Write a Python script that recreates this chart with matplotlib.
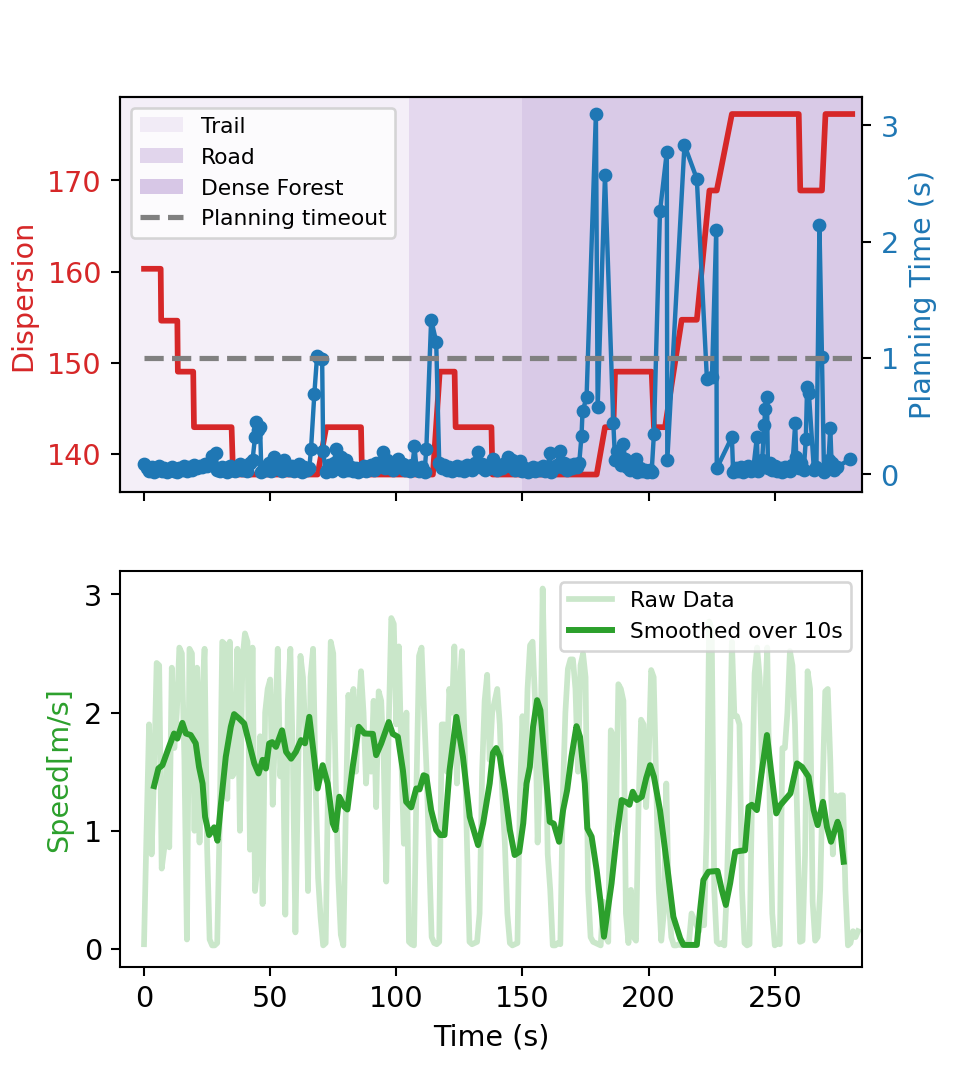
import numpy as np
import matplotlib.pyplot as plt
from matplotlib.patches import Patch
from matplotlib.lines import Line2D

# terrain segments (s)
road_start = 105
forest_start = 150
timeout = 1.0

# dispersion over time (red line)
red_t = [0, 6.6, 6.8, 13.2, 13.4, 19.5, 19.8, 34.7, 35.3, 68.8,
         72.2, 86.0, 86.4, 114.5, 117.2, 123.1, 123.5, 137.7, 138.1, 179.4,
         182.7, 186.0, 186.7, 201.2, 202.1, 206.5, 213.1, 219.1, 224.1, 227.0,
         233.0, 259.5, 260.1, 268.7, 270.1, 280.7]
red_v = [160.3, 160.3, 154.6, 154.6, 149.0, 149.0, 142.9, 142.9, 137.7, 137.7,
         142.9, 142.9, 137.7, 137.7, 149.0, 149.0, 142.9, 142.9, 137.7, 137.7,
         142.9, 142.9, 149.0, 149.0, 142.9, 142.9, 154.7, 154.7, 168.9, 168.9,
         177.3, 177.3, 168.9, 168.9, 177.3, 177.3]

# planning time samples
plan_t = [0, 1, 2, 3, 4, 5, 6, 7, 8, 9,
          10, 11, 12, 13, 14, 15, 16, 17, 18, 19,
          20, 21, 22, 23, 24, 25, 26, 27.1, 28.4, 29,
          30, 31, 32, 33, 34, 35, 36, 37, 38, 39,
          40, 41, 42, 43, 44.0, 44.3, 45.2, 46.0, 46.5, 47.5,
          48.5, 49.5, 50.5, 51.5, 52.5, 53.5, 54.5, 55.5, 56.5, 57.5,
          58.5, 59.5, 60.5, 61.5, 62.5, 63.5, 64.5, 65.5, 66.2, 67.5,
          68.6, 69.5, 70.6, 71.0, 72.0, 72.6, 73.5, 74.5, 75.3, 76.1,
          77.0, 78.0, 79.0, 80.2, 81.0, 82.0, 83.0, 84.0, 85.0, 86.0,
          87, 88, 89, 90, 91, 92, 93, 94.6, 95.5, 96.5,
          97.5, 98.5, 99.5, 100.6, 101.5, 102.5, 103.5, 104.5, 105.5, 106.4,
          107.2, 108, 109, 110, 111.2, 111.9, 113.8, 115.8, 117.0, 118,
          119, 120, 121, 122, 123, 124, 125, 126, 127, 128,
          129, 130, 131, 132.4, 133.2, 134, 135, 136, 137, 138.3,
          139.2, 140, 141, 142, 143, 144.3, 145, 146, 147, 148,
          148.9, 150, 151, 152, 153, 154, 155, 156, 157, 158,
          159, 160, 160.8, 161.5, 162.5, 163.5, 164.8, 165.5, 166.5, 167.5,
          168.5, 169.5, 170.5, 171.5, 172.5, 173.4, 173.8, 175.4, 179.1, 179.8,
          182.7, 186.0, 186.7, 187.5, 188.3, 189.0, 190.0, 190.6, 191.5, 192.5,
          193.5, 194.9, 195.5, 196.5, 197.5, 198.5, 199.5, 200.5, 201.2, 202.1,
          204.5, 207.2, 207.4, 214.2, 219.1, 223.1, 225.1, 226.8, 227.0, 233.0,
          233.5, 234.5, 235.5, 236.5, 237.5, 238.5, 239.5, 240.5, 241.5, 242.9,
          243.3, 244, 245, 245.8, 246.2, 246.9, 247.3, 248, 249, 250,
          251, 252, 253, 254, 255, 256, 257, 258.1, 258.5, 259.5,
          260.5, 261.5, 262.3, 262.8, 263.5, 265.5, 266.5, 267.7, 268.7, 269.5,
          270.5, 271.3, 272.0, 272.5, 273.5, 274.5, 280.0]
plan_s = [0.09, 0.05, 0.03, 0.06, 0.02, 0.04, 0.07, 0.03, 0.05, 0.02,
          0.04, 0.06, 0.03, 0.02, 0.05, 0.04, 0.07, 0.03, 0.06, 0.04,
          0.08, 0.05, 0.07, 0.06, 0.09, 0.07, 0.10, 0.16, 0.18, 0.04,
          0.03, 0.06, 0.05, 0.02, 0.07, 0.04, 0.03, 0.05, 0.09, 0.04,
          0.06, 0.03, 0.10, 0.12, 0.32, 0.45, 0.38, 0.41, 0.02, 0.06,
          0.04, 0.10, 0.03, 0.15, 0.05, 0.08, 0.03, 0.12, 0.06, 0.04,
          0.07, 0.03, 0.05, 0.09, 0.02, 0.06, 0.04, 0.05, 0.22, 0.69,
          1.02, 1.00, 0.99, 0.20, 0.02, 0.04, 0.08, 0.03, 0.10, 0.22,
          0.05, 0.15, 0.03, 0.12, 0.04, 0.06, 0.03, 0.05, 0.02, 0.04,
          0.07, 0.03, 0.06, 0.08, 0.04, 0.10, 0.06, 0.19, 0.05, 0.12,
          0.08, 0.04, 0.10, 0.13, 0.06, 0.09, 0.04, 0.07, 0.03, 0.08,
          0.24, 0.05, 0.03, 0.06, 0.02, 0.22, 1.33, 1.14, 0.10, 0.05,
          0.08, 0.04, 0.06, 0.03, 0.05, 0.07, 0.04, 0.06, 0.03, 0.08,
          0.05, 0.04, 0.10, 0.19, 0.06, 0.09, 0.04, 0.07, 0.05, 0.13,
          0.06, 0.04, 0.08, 0.05, 0.10, 0.15, 0.07, 0.12, 0.04, 0.06,
          0.11, 0.03, 0.05, 0.02, 0.04, 0.06, 0.03, 0.05, 0.04, 0.07,
          0.03, 0.06, 0.18, 0.02, 0.05, 0.08, 0.20, 0.06, 0.10, 0.04,
          0.08, 0.05, 0.09, 0.06, 0.10, 0.33, 0.54, 0.66, 3.10, 0.58,
          2.57, 0.44, 0.12, 0.20, 0.14, 0.08, 0.26, 0.13, 0.06, 0.04,
          0.09, 0.13, 0.02, 0.05, 0.03, 0.04, 0.02, 0.04, 0.02, 0.35,
          2.26, 2.77, 0.12, 2.83, 2.54, 0.82, 0.84, 2.10, 0.05, 0.32,
          0.02, 0.05, 0.03, 0.06, 0.02, 0.04, 0.07, 0.03, 0.05, 0.32,
          0.03, 0.08, 0.12, 0.42, 0.56, 0.66, 0.05, 0.10, 0.04, 0.07,
          0.03, 0.05, 0.02, 0.06, 0.04, 0.03, 0.08, 0.44, 0.15, 0.05,
          0.10, 0.04, 0.30, 0.75, 0.70, 0.04, 0.06, 2.14, 1.01, 0.02,
          0.05, 0.12, 0.40, 0.10, 0.04, 0.06, 0.13]

# raw speed, one sample per second
speed_raw = [0.04, 1.0, 1.9, 0.8, 1.5, 2.42, 2.40, 0.68, 0.85, 1.6,
             0.86, 2.38, 1.7, 2.0, 2.55, 2.5, 1.6, 0.08, 2.54, 2.5,
             1.0, 2.38, 0.9, 2.1, 2.54, 0.86, 0.08, 0.03, 0.03, 0.05,
             1.08, 2.6, 2.58, 1.27, 2.6, 1.46, 1.5, 2.54, 1.0, 2.45,
             2.67, 2.6, 0.84, 2.55, 0.49, 0.72, 1.8, 0.38, 2.0, 2.2,
             2.28, 1.22, 1.9, 2.54, 1.46, 1.8, 0.29, 2.1, 2.54, 1.6,
             0.14, 1.4, 2.48, 2.3, 1.8, 0.49, 2.3, 2.54, 1.4, 0.6,
             0.26, 0.03, 0.05, 1.5, 2.6, 2.5, 1.4, 0.6, 0.12, 0.03,
             1.2, 2.15, 1.9, 2.2, 1.5, 2.0, 2.35, 2.0, 1.4, 1.8,
             1.5, 2.1, 1.2, 2.18, 2.1, 1.6, 0.57, 1.9, 2.8, 2.75,
             1.9, 2.56, 1.6, 0.89, 2.0, 0.06, 0.04, 0.03, 1.4, 2.48,
             2.55, 2.0, 1.5, 0.8, 0.1, 0.05, 0.04, 0.06, 1.9, 1.9,
             1.5, 2.2, 2.0, 2.56, 1.4, 2.2, 2.52, 1.8, 0.89, 0.06,
             0.04, 0.05, 0.06, 0.3, 1.5, 2.1, 2.32, 1.6, 2.0, 2.1,
             2.2, 1.9, 1.3, 0.9, 0.3, 0.05, 0.03, 0.04, 0.05, 1.3,
             1.97, 1.4, 2.2, 2.57, 2.6, 2.1, 0.9, 1.5, 3.05, 2.0,
             0.8, 0.5, 0.03, 0.03, 0.05, 0.04, 1.3, 2.0, 2.37, 2.45,
             2.45, 2.2, 1.5, 2.4, 2.5, 2.3, 0.5, 0.1, 0.06, 0.05,
             0.04, 0.03, 0.4, 0.1, 0.06, 1.85, 1.8, 1.0, 2.24, 2.2,
             2.1, 0.3, 0.05, 0.5, 0.1, 0.07, 1.2, 1.94, 1.9, 1.2,
             1.6, 2.36, 2.3, 1.4, 0.5, 0.07, 0.3, 1.4, 0.4, 0.1,
             0.03, 0.03, 0.04, 0.03, 0.05, 0.04, 0.06, 0.3, 0.25, 0.2,
             0.15, 0.3, 0.2, 1.0, 2.77, 2.7, 0.5, 0.06, 0.04, 0.05,
             0.03, 0.5, 1.4, 2.6, 1.97, 1.97, 1.9, 0.5, 0.05, 0.03,
             0.04, 1.3, 2.33, 2.55, 2.3, 1.5, 2.0, 2.55, 1.2, 0.3,
             0.03, 0.05, 0.04, 1.7, 1.7, 2.0, 2.52, 2.4, 1.9, 1.0,
             0.06, 0.07, 0.8, 2.35, 2.2, 0.4, 0.07, 0.1, 0.5, 1.4,
             2.18, 2.2, 1.6, 0.8, 1.3, 1.1, 1.3, 1.3, 0.5, 0.03,
             0.05, 0.15, 0.1, 0.15]
raw_t = np.arange(len(speed_raw))

# smoothed speed (10 s window)
smooth_t = [3.97, 5.7, 7.3, 9.9, 11.9, 13.2, 15.2, 16.6, 18.5, 20.5,
            21.8, 23.2, 24.2, 25.8, 27.8, 29.1, 30.5, 32.4, 34.4, 35.7,
            37.7, 39.7, 41.7, 43.7, 45.4, 47.0, 48.3, 49.6, 50.8, 52.3,
            54.7, 56.3, 58.3, 60.2, 62.2, 63.8, 65.5, 67.1, 68.8, 70.8,
            72.8, 74.8, 75.9, 77.4, 79.4, 80.6, 82.7, 85.1, 87.4, 90.7,
            92.0, 94.0, 97.0, 98.6, 100.6, 102.6, 103.9, 105.9, 107.9, 109.2,
            110.8, 111.9, 113.8, 115.8, 117.4, 119.1, 121.1, 123.8, 126.4, 129.1,
            132.4, 134.4, 135.7, 137.0, 138.3, 139.6, 141.0, 143.0, 145.0, 146.9,
            148.7, 150.3, 151.6, 152.9, 154.2, 155.8, 157.1, 158.9, 160.8, 162.4,
            164.5, 166.1, 167.7, 169.4, 171.4, 172.8, 174.7, 175.7, 177.4, 179.4,
            181.0, 182.3, 184.0, 185.3, 187.3, 189.3, 191.3, 192.4, 193.7, 195.3,
            197.3, 199.0, 200.6, 202.1, 204.5, 207.2, 209.8, 212.5, 213.8, 219.1,
            220.4, 221.7, 223.7, 227.3, 229.0, 230.6, 232.3, 234.3, 236.3, 238.2,
            239.6, 240.9, 242.9, 244.9, 246.9, 248.5, 250.6, 252.2, 256.2, 258.8,
            260.8, 263.4, 265.4, 267.0, 269.1, 270.7, 272.3, 274.9, 276.0, 277.3]
smooth_v = [1.378, 1.527, 1.555, 1.71, 1.823, 1.78, 1.913, 1.823, 1.81, 1.74,
            1.54, 1.40, 1.118, 0.964, 1.029, 0.916, 1.23, 1.626, 1.88, 1.987,
            1.95, 1.908, 1.739, 1.57, 1.485, 1.6, 1.527, 1.739, 1.75, 1.71,
            1.85, 1.668, 1.61, 1.668, 1.767, 1.74, 1.964, 1.68, 1.358, 1.555,
            1.40, 1.063, 1.006, 1.288, 1.203, 1.18, 1.54, 1.88, 1.823, 1.82,
            1.64, 1.739, 1.92, 1.82, 1.795, 1.513, 1.245, 1.198, 1.358, 1.35,
            1.47, 1.46, 1.175, 1.006, 0.964, 0.964, 1.513, 1.964, 1.626, 1.118,
            0.879, 1.063, 1.23, 1.40, 1.66, 1.70, 1.63, 1.344, 1.006, 0.795,
            0.82, 1.063, 1.40, 1.54, 1.88, 2.105, 2.02, 1.57, 1.076, 1.06,
            0.907, 1.175, 1.344, 1.626, 1.885, 1.795, 1.40, 1.02, 0.95, 0.668,
            0.386, 0.104, 0.358, 0.555, 0.95, 1.26, 1.24, 1.22, 1.33, 1.26,
            1.288, 1.443, 1.555, 1.457, 1.175, 0.724, 0.273, 0.09, 0.034, 0.034,
            0.33, 0.583, 0.653, 0.66, 0.499, 0.372, 0.555, 0.822, 0.83, 0.835,
            1.203, 1.22, 1.175, 1.513, 1.81, 1.51, 1.147, 1.217, 1.316, 1.57,
            1.54, 1.457, 1.175, 1.048, 1.245, 1.03, 0.907, 1.076, 1.0, 0.738]

plt.rcParams['font.size'] = 11

fig, (ax1, ax3) = plt.subplots(2, 1, sharex=True, figsize=(957.4 / 187, 1091.4 / 187), dpi=187)
fig.subplots_adjust(left=0.1254, right=0.9007, top=0.911, bottom=0.1137, hspace=0.2)

x_lo, x_hi = -9.5, 284.7

# terrain shading
ax1.axvspan(x_lo, road_start, color='tab:purple', alpha=0.1, lw=0)
ax1.axvspan(road_start, forest_start, color='tab:purple', alpha=0.25, lw=0)
ax1.axvspan(forest_start, x_hi, color='tab:purple', alpha=0.35, lw=0)

ax1.plot(red_t, red_v, color='tab:red', lw=2.2)
ax1.set_ylabel('Dispersion', color='tab:red')
ax1.tick_params(axis='y', labelcolor='tab:red')
ax1.set_ylim(135.75, 179.2)
ax1.set_yticks([140, 150, 160, 170])

ax2 = ax1.twinx()
ax2.plot(plan_t, plan_s, 'o-', color='tab:blue', lw=1.7, ms=4.3)
ax2.hlines(timeout, 0, 282, colors='gray', linestyles='--', lw=2)
ax2.set_ylabel('Planning Time (s)', color='tab:blue')
ax2.tick_params(axis='y', labelcolor='tab:blue')
ax2.set_ylim(-0.155, 3.245)
ax2.set_yticks([0, 1, 2, 3])

handles = [Patch(facecolor='tab:purple', edgecolor='none', alpha=0.1, label='Trail'),
           Patch(facecolor='tab:purple', edgecolor='none', alpha=0.25, label='Road'),
           Patch(facecolor='tab:purple', edgecolor='none', alpha=0.35, label='Dense Forest'),
           Line2D([], [], color='gray', ls='--', lw=2, label='Planning timeout')]
ax2.legend(handles=handles, loc='upper left', fontsize=8.4)

# speed
ax3.plot(raw_t, speed_raw, color='tab:green', alpha=0.25, lw=2.2, label='Raw Data')
ax3.plot(smooth_t, smooth_v, color='tab:green', lw=2.3, label='Smoothed over 10s')
ax3.set_ylabel('Speed[m/s]', color='tab:green')
ax3.set_xlabel('Time (s)')
ax3.set_ylim(-0.152, 3.195)
ax3.set_yticks([0, 1, 2, 3])
ax3.legend(loc='upper right', fontsize=8.4)

ax3.set_xlim(x_lo, x_hi)
ax3.set_xticks([0, 50, 100, 150, 200, 250])

fig.savefig('out.png', dpi=187)
